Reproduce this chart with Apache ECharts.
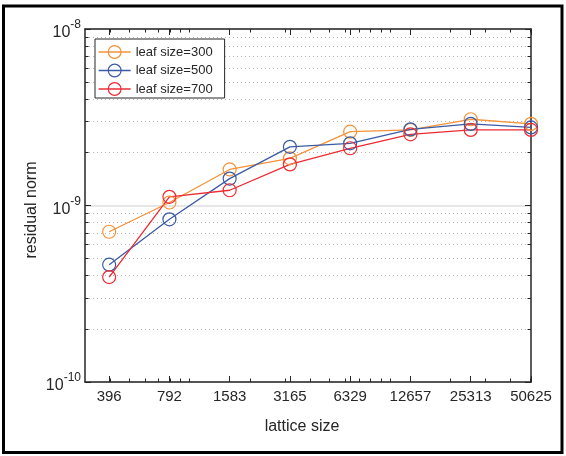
<!DOCTYPE html>
<html>
<head>
<meta charset="utf-8">
<style>
  html, body { margin: 0; padding: 0; background: #fff; }
  #chart { width: 566px; height: 456px; }
</style>
<script src="https://cdn.jsdelivr.net/npm/echarts@6/dist/echarts.min.js"></script>
</head>
<body>
<div id="chart"></div>
<script>
// lattice sizes (x) and residual norms per leaf size
var sizes = [396, 792, 1583, 3165, 6329, 12657, 25313, 50625];
var leaf300 = [7.1e-10, 1.04e-9, 1.60e-9, 1.85e-9, 2.62e-9, 2.68e-9, 3.08e-9, 2.90e-9];
var leaf500 = [4.62e-10, 8.35e-10, 1.42e-9, 2.15e-9, 2.25e-9, 2.70e-9, 2.90e-9, 2.77e-9];
var leaf700 = [3.93e-10, 1.12e-9, 1.22e-9, 1.71e-9, 2.11e-9, 2.53e-9, 2.68e-9, 2.68e-9];
var seriesNames = ['leaf size=300', 'leaf size=500', 'leaf size=700'];
var colors = ['#f39237', '#3b5ba5', '#ec2b33'];

var xMin = 300, xMax = 50625;
var yMin = 1e-10, yMax = 1e-8;
// minor tick values of the log axes
var xMinor = [400, 500, 600, 700, 800, 900,
  1000, 2000, 3000, 4000, 5000, 6000, 7000, 8000, 9000,
  10000, 20000, 30000, 40000, 50000];
var yMinor = [2e-10, 3e-10, 4e-10, 5e-10, 6e-10, 7e-10, 8e-10, 9e-10,
  2e-9, 3e-9, 4e-9, 5e-9, 6e-9, 7e-9, 8e-9, 9e-9];

var font = "'Liberation Sans', Arial, sans-serif";
var ink = '#262626';

var chart = echarts.init(document.getElementById('chart'));

function pairs(vals) {
  return sizes.map(function (s, i) { return [s, vals[i]]; });
}

function makeSeries(name, vals, color) {
  return {
    name: name,
    type: 'line',
    xAxisIndex: 0,
    yAxisIndex: 0,
    data: pairs(vals),
    symbol: 'circle',
    symbolSize: 13,
    itemStyle: { color: 'rgba(0,0,0,0)', borderColor: color, borderWidth: 1.2 },
    lineStyle: { color: color, width: 1.3 },
    emphasis: { disabled: true },
    silent: true
  };
}

// helper axes (log2 / log10 space) only carry ticks and dotted grid
var lx = Math.log2;
var ly = Math.log10;

function xDeco(position, values, len, showLine) {
  return {
    type: 'value', position: position, min: lx(xMin), max: lx(xMax),
    axisLine: { show: !!showLine, onZero: false, lineStyle: { color: ink, width: 1.5 } },
    axisTick: { show: true, inside: true, length: len, customValues: values, lineStyle: { color: ink, width: 1 } },
    axisLabel: { show: false },
    splitLine: { show: false }
  };
}
function yDeco(position, values, len, grid) {
  return {
    type: 'value', position: position, min: ly(yMin), max: ly(yMax),
    axisLine: { show: false, onZero: false },
    axisTick: { show: true, inside: true, length: len, customValues: values, lineStyle: { color: ink, width: 1 } },
    axisLabel: { show: false },
    splitLine: { show: !!grid, lineStyle: { color: '#b4b4b4', width: 1, type: [1, 3] } }
  };
}

chart.setOption({
  animation: false,
  textStyle: { fontFamily: font },
  grid: { left: 85, right: 35, top: 29, bottom: 74, containLabel: false },
  legend: {
    orient: 'vertical',
    left: 95,
    top: 39,
    data: seriesNames,
    itemWidth: 32,
    itemHeight: 16,
    itemGap: 4.5,
    padding: [6, 12, 2, 3],
    borderColor: ink,
    borderWidth: 1,
    backgroundColor: '#fff',
    itemStyle: { borderWidth: 1.2 },
    lineStyle: { width: 1.3 },
    textStyle: { fontFamily: font, fontSize: 13, color: ink },
    selectedMode: false
  },
  xAxis: [
    {
      type: 'log', logBase: 2, min: xMin, max: xMax, position: 'bottom',
      name: 'lattice size', nameLocation: 'middle', nameGap: 37, nameMoveOverlap: false,
      nameTextStyle: { fontFamily: font, fontSize: 16, color: ink, padding: [0, 12, 0, 0] },
      axisLine: { show: true, onZero: false, lineStyle: { color: ink, width: 1.5 } },
      axisTick: { show: false },
      axisLabel: { show: false },
      splitLine: { show: false }
    },
    {
      type: 'value', position: 'bottom', min: lx(xMin), max: lx(xMax),
      axisLine: { show: false, onZero: false },
      axisTick: { show: true, inside: true, length: 6, customValues: sizes.map(lx), lineStyle: { color: ink, width: 1 } },
      axisLabel: {
        show: true, margin: 7, customValues: sizes.map(lx),
        fontFamily: font, fontSize: 15, color: ink,
        formatter: function (v) { return String(Math.round(Math.pow(2, v))); }
      },
      splitLine: { show: false }
    },
    xDeco('bottom', xMinor.map(lx), 3.5, false),
    xDeco('top', sizes.map(lx), 6, true),
    xDeco('top', xMinor.map(lx), 3.5, false)
  ],
  yAxis: [
    {
      type: 'log', logBase: 10, min: yMin, max: yMax, position: 'left',
      name: 'residual norm', nameLocation: 'middle', nameGap: 45, nameRotate: 90,
      nameMoveOverlap: false,
      nameTextStyle: { fontFamily: font, fontSize: 16, color: ink, padding: [0, 9, 0, 0] },
      axisLine: { show: true, onZero: false, lineStyle: { color: ink, width: 1.5 } },
      axisTick: { show: true, inside: true, length: 6, lineStyle: { color: ink, width: 1 } },
      axisLabel: {
        margin: 4,
        formatter: function (v) {
          var e = Math.round(Math.log10(v));
          return '{b|10}{s|' + e + '}';
        },
        rich: {
          b: { fontFamily: font, fontSize: 16, color: ink, padding: [8, 0, 0, 0] },
          s: { fontFamily: font, fontSize: 12, color: ink, padding: [0, 0, 8, 0] }
        }
      },
      splitLine: { show: true, lineStyle: { color: '#e6e6e6', width: 2 } }
    },
    yDeco('left', yMinor.map(ly), 3.5, true),
    {
      type: 'log', logBase: 10, min: yMin, max: yMax, position: 'right',
      axisLine: { show: true, onZero: false, lineStyle: { color: ink, width: 1.5 } },
      axisTick: { show: true, inside: true, length: 6, lineStyle: { color: ink, width: 1 } },
      axisLabel: { show: false },
      splitLine: { show: false }
    },
    yDeco('right', yMinor.map(ly), 3.5, false)
  ],
  graphic: [
    {
      type: 'rect', silent: true, z: 100,
      shape: { x: 3.5, y: 6, width: 558.5, height: 446.5 },
      style: { fill: 'none', stroke: '#000', lineWidth: 3 }
    }
  ],
  series: [
    makeSeries(seriesNames[0], leaf300, colors[0]),
    makeSeries(seriesNames[1], leaf500, colors[1]),
    makeSeries(seriesNames[2], leaf700, colors[2])
  ]
});
</script>
</body>
</html>
